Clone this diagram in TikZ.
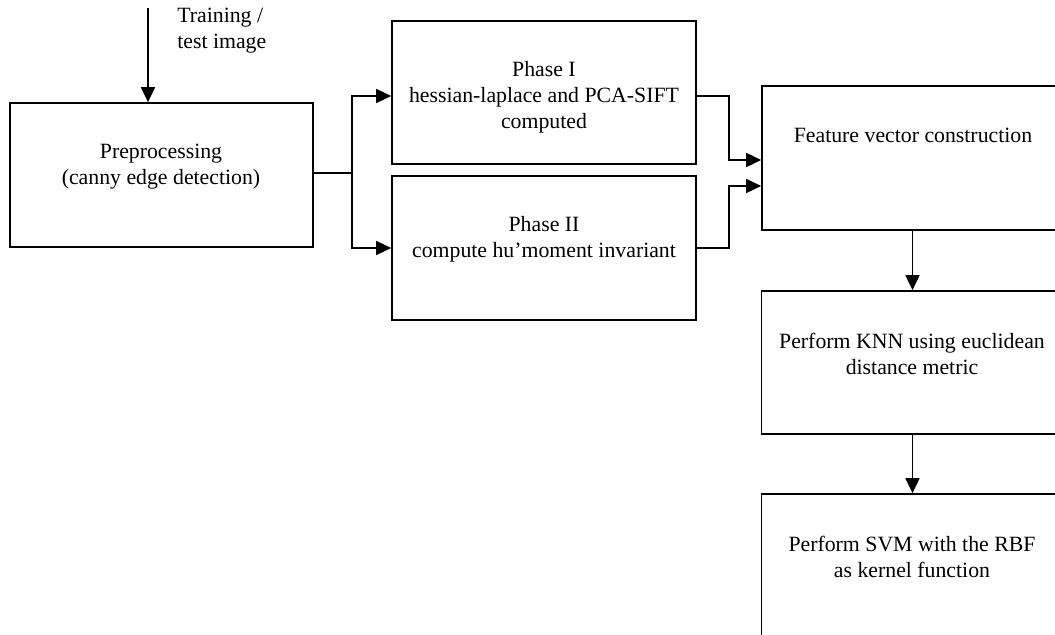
\documentclass[tikz,border=0pt]{standalone}
\usepackage{fontspec}
\setmainfont{Liberation Serif}
\usetikzlibrary{arrows.meta}

\begin{document}
\begin{tikzpicture}[x=0.02cm, y=-0.02cm,
            box/.style = {shape=rectangle, draw, line width=1pt,
                          minimum width=6.06cm, minimum height=2.88cm},
            lbl/.style = {align=center, font=\fontsize{12.4}{14.8}\selectfont, inner sep=0pt},
            line/.style = {line width=1pt},
            arr/.style = {line width=1pt, -{Triangle[length=0.3cm,width=0.28cm]}}]
            \useasboundingbox (0,0) rectangle (1055,635);
            \clip (0,0) rectangle (1055,635);
            % boxes
            \node[box] (pre) at (161.5,175) {};
            \node[box, minimum width=6.08cm, minimum height=2.86cm] (ph1) at (544,92.5) {};
            \node[box, minimum width=6.08cm] (ph2) at (544,248) {};
            \node[box, minimum width=6.04cm] (feat) at (913,158) {};
            \node[box, minimum width=6.04cm, minimum height=2.86cm] (knn) at (912.5,362.5) {};
            \node[box, minimum width=6.04cm] (svm) at (912.5,566) {};
            % texts
            \node[lbl] (pretxt) at (161,167) {Preprocessing\\(canny edge detection)};
            \node[lbl] (ph1txt) at (544,97) {Phase I\\hessian-laplace and PCA-SIFT\\computed};
            \node[lbl] (ph2txt) at (544,239) {Phase II\\compute hu'moment invariant};
            \node[lbl] (feattxt) at (913,135) {Feature vector construction};
            \node[lbl] (knntxt) at (912,354) {Perform KNN using euclidean\\distance metric};
            \node[lbl] (svmtxt) at (912,557) {Perform SVM with the RBF\\as kernel function};
            \node[lbl, align=left, anchor=west] (intxt) at (177,31) {Training /\\test image};
            % connectors
            \coordinate (in) at (148,8);
            \coordinate (split) at (352,173);
            \draw[arr] (in) -- (in |- pre.north);
            \draw[line] (pre.east |- split) -- (split);
            \draw[arr] (split) |- ([yshift=-0.07cm]ph1.west);
            \draw[arr] (split) |- (ph2.west);
            \draw[arr] ([yshift=-0.07cm]ph1.east) -- ++(32,0) |- ([yshift=-0.04cm]feat.west);
            \draw[arr] (ph2.east) -- ++(32,0) |- ([yshift=-0.56cm]feat.west);
            \draw[arr] (feat.south -| knn.north) -- (knn.north);
            \draw[arr] (knn.south) -- (svm.north);
        \end{tikzpicture}
\end{document}
